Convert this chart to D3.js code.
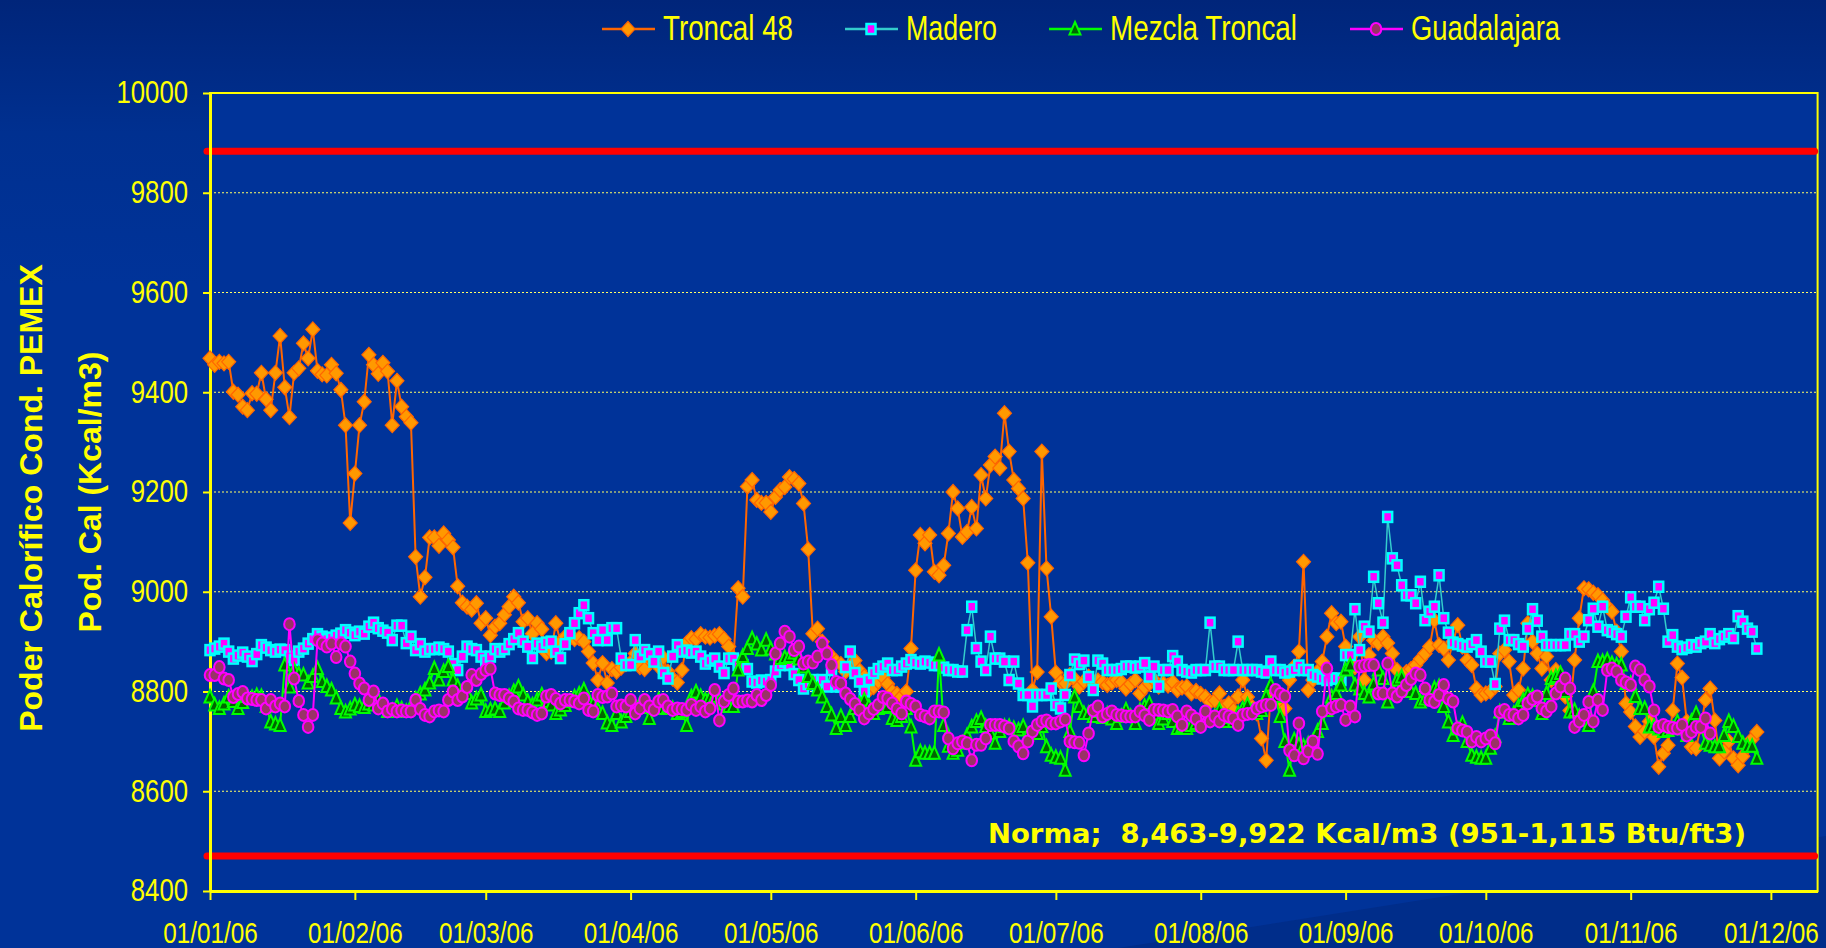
<!DOCTYPE html>
<meta charset="utf-8"/>
<html>
  <head>
    <script src="https://d3js.org/d3.v7.min.js"></script>
    <style>
      body { margin: 0; background: #003399; overflow: hidden; }
    </style>
  </head>
  <body>
<script type="text/javascript">
var width = 1826;
var height = 948;
var plot = {left: 210, top: 93, right: 1817.6, bottom: 891};

// chart values
var startDay = '2006-01-01';
var endDay = '2006-12-11';
var yTicks = [8400, 8600, 8800, 9000, 9200, 9400, 9600, 9800, 10000];
var normaLow = 8470;
var normaHigh = 9883;
var normaLabel = 'Norma;  8,463-9,922 Kcal/m3 (951-1,115 Btu/ft3)';
var yTitle = 'Poder Calorífico Cond. PEMEX';
var yTitle2 = 'Pod. Cal (Kcal/m3)';
var seriesNames = ['Troncal 48', 'Madero', 'Mezcla Troncal', 'Guadalajara'];

var troncal48 = [
  9468,9455,9461,9458,9461,9401,9395,9371,9364,9398,9397,9439,9386,9364,9439,9513,9410,9350,9439,9448,
  9498,9468,9526,9443,9436,9434,9455,9438,9405,9334,9138,9237,9334,9381,9475,9455,9437,9459,9442,9334,
  9423,9371,9351,9339,9070,8990,9029,9109,9109,9092,9117,9104,9089,9011,8978,8970,8964,8977,8937,8947,
  8913,8930,8937,8954,8970,8990,8978,8940,8947,8916,8937,8925,8877,8880,8937,8900,8910,8907,8905,8907,
  8900,8880,8857,8823,8857,8817,8845,8840,8848,8855,8858,8876,8849,8845,8865,8860,8850,8868,8840,8826,
  8818,8843,8897,8907,8905,8915,8910,8908,8912,8915,8905,8890,8867,9007,8990,9211,9224,9184,9178,9178,
  9160,9190,9204,9210,9230,9226,9217,9177,9085,8916,8926,8900,8880,8870,8860,8855,8840,8850,8862,8842,
  8830,8803,8809,8820,8828,8815,8800,8795,8790,8800,8886,9043,9114,9097,9114,9040,9033,9053,9117,9200,
  9167,9110,9120,9170,9127,9234,9187,9254,9271,9248,9358,9281,9224,9207,9187,9058,8803,8839,9281,9047,
  8950,8838,8819,8816,8833,8825,8810,8820,8830,8815,8822,8819,8813,8818,8823,8819,8806,8815,8823,8796,
  8808,8816,8823,8810,8816,8812,8819,8803,8808,8810,8796,8801,8795,8789,8779,8782,8796,8769,8776,8762,
  8790,8823,8789,8769,8756,8706,8662,8796,8790,8782,8766,8823,8850,8880,9060,8803,8823,8840,8860,8910,
  8957,8937,8940,8890,8870,8849,8910,8823,8873,8903,8897,8910,8897,8876,8843,8829,8839,8845,8853,8865,
  8876,8890,8943,8893,8886,8863,8900,8933,8890,8863,8853,8806,8793,8796,8800,8810,8876,8883,8860,8793,
  8803,8846,8937,8900,8876,8846,8870,8823,8843,8820,8790,8762,8863,8947,9007,9005,8998,8993,8983,8970,
  8960,8920,8880,8776,8759,8730,8709,8720,8740,8709,8649,8676,8692,8762,8856,8828,8740,8689,8686,8730,
  8783,8806,8742,8666,8680,8700,8666,8652,8670,8689,8705,8719
];

var madero = [
  8883,8886,8890,8896,8880,8866,8872,8878,8870,8861,8875,8893,8888,8883,8880,8884,8883,8870,8863,8880,
  8886,8896,8905,8915,8910,8905,8908,8912,8916,8923,8918,8913,8920,8916,8930,8938,8927,8922,8918,8903,
  8932,8932,8897,8910,8883,8895,8880,8885,8885,8888,8885,8880,8855,8843,8870,8890,8885,8883,8870,8862,
  8870,8885,8880,8885,8895,8905,8917,8900,8890,8867,8896,8890,8898,8900,8880,8867,8895,8917,8937,8957,
  8973,8947,8917,8903,8923,8903,8927,8927,8866,8853,8853,8903,8870,8883,8875,8860,8880,8837,8826,8870,
  8893,8880,8882,8878,8880,8870,8856,8862,8866,8850,8837,8866,8866,8853,8853,8845,8820,8818,8822,8820,
  8823,8840,8853,8860,8853,8835,8823,8806,8815,8823,8810,8823,8810,8843,8810,8810,8849,8880,8837,8820,
  8800,8823,8837,8845,8850,8856,8843,8843,8850,8856,8863,8858,8856,8860,8858,8853,8853,8848,8843,8843,
  8840,8840,8923,8970,8887,8860,8843,8910,8866,8866,8860,8823,8860,8816,8793,8793,8770,8793,8793,8793,
  8806,8773,8766,8793,8833,8864,8855,8862,8829,8803,8862,8856,8843,8843,8843,8845,8850,8850,8848,8850,
  8857,8830,8850,8810,8843,8843,8871,8860,8843,8840,8838,8843,8843,8843,8938,8850,8850,8843,8843,8843,
  8900,8843,8843,8843,8843,8840,8838,8860,8843,8843,8838,8840,8843,8852,8843,8843,8833,8830,8826,8823,
  8826,8826,8823,8873,8873,8965,8883,8930,8920,9030,8977,8938,9150,9067,9053,9013,8993,8993,8977,9020,
  8943,8960,8970,9033,8947,8918,8898,8895,8892,8890,8895,8903,8880,8860,8860,8815,8926,8942,8903,8903,
  8895,8890,8926,8965,8942,8910,8893,8893,8893,8893,8893,8915,8915,8900,8910,8943,8966,8930,8970,8923,
  8920,8915,8910,8950,8989,8970,8970,8943,8965,8978,9010,8966,8900,8913,8890,8885,8888,8893,8890,8897,
  8900,8915,8897,8905,8910,8915,8907,8951,8940,8926,8920,8886
];

var mezclaTroncal = [
  8789,8773,8766,8775,8789,8780,8766,8778,8790,8788,8792,8790,8770,8739,8735,8732,8853,8809,8843,8835,
  8833,8817,8830,8846,8820,8810,8803,8787,8766,8759,8765,8773,8770,8768,8775,8773,8783,8770,8760,8762,
  8770,8765,8760,8770,8785,8795,8803,8817,8846,8823,8840,8850,8823,8810,8800,8796,8777,8785,8793,8760,
  8763,8765,8760,8777,8790,8800,8809,8793,8780,8773,8783,8793,8780,8773,8756,8763,8772,8780,8789,8795,
  8803,8783,8775,8763,8756,8737,8732,8756,8739,8750,8760,8770,8775,8768,8746,8770,8783,8766,8770,8766,
  8756,8760,8732,8789,8799,8790,8783,8788,8790,8783,8775,8770,8770,8843,8870,8886,8906,8895,8883,8903,
  8885,8875,8866,8868,8870,8877,8865,8849,8830,8816,8803,8789,8770,8753,8726,8750,8732,8750,8766,8775,
  8783,8770,8756,8766,8768,8770,8746,8742,8750,8766,8729,8662,8679,8676,8676,8676,8873,8732,8690,8676,
  8682,8696,8712,8729,8740,8746,8730,8716,8696,8720,8730,8730,8726,8723,8730,8713,8720,8716,8730,8689,
  8672,8668,8666,8642,8720,8789,8770,8756,8756,8750,8760,8748,8755,8745,8736,8750,8763,8750,8736,8762,
  8770,8776,8755,8736,8745,8756,8740,8726,8730,8726,8732,8736,8745,8756,8750,8750,8762,8740,8748,8740,
  8756,8765,8773,8760,8756,8762,8790,8813,8790,8750,8700,8642,8703,8693,8690,8695,8700,8720,8736,8762,
  8789,8796,8813,8843,8853,8813,8805,8796,8789,8815,8843,8826,8779,8800,8823,8829,8810,8800,8796,8779,
  8785,8790,8806,8810,8770,8739,8712,8725,8736,8700,8672,8668,8666,8666,8686,8710,8759,8759,8746,8756,
  8770,8782,8793,8790,8782,8756,8796,8826,8830,8836,8800,8759,8762,8750,8742,8732,8800,8860,8860,8863,
  8856,8853,8853,8816,8816,8790,8766,8766,8729,8730,8725,8720,8722,8726,8739,8725,8712,8740,8756,8729,
  8696,8692,8689,8689,8712,8740,8730,8710,8696,8690,8690,8666
];

var guadalajara = [
  8833,8833,8849,8826,8823,8789,8795,8799,8786,8785,8783,8783,8766,8783,8770,8776,8770,8935,8826,8781,
  8753,8729,8753,8903,8896,8890,8896,8869,8896,8890,8860,8836,8816,8806,8783,8800,8766,8776,8760,8765,
  8760,8762,8760,8760,8783,8765,8753,8750,8760,8762,8760,8783,8800,8783,8790,8809,8833,8823,8835,8843,
  8846,8796,8793,8793,8786,8780,8766,8763,8763,8758,8753,8756,8790,8793,8785,8776,8783,8783,8780,8776,
  8786,8763,8760,8793,8789,8790,8796,8770,8772,8770,8783,8756,8766,8783,8770,8763,8780,8783,8770,8763,
  8766,8765,8763,8773,8763,8770,8760,8766,8803,8742,8780,8793,8806,8780,8780,8782,8780,8793,8783,8793,
  8813,8876,8896,8920,8910,8883,8890,8856,8860,8858,8870,8896,8876,8853,8819,8816,8796,8785,8775,8763,
  8746,8756,8765,8773,8789,8786,8776,8765,8756,8780,8775,8770,8753,8750,8746,8760,8760,8758,8706,8686,
  8696,8700,8696,8662,8693,8693,8706,8733,8733,8733,8730,8726,8700,8690,8676,8700,8720,8733,8740,8742,
  8736,8736,8740,8744,8700,8698,8697,8672,8716,8762,8770,8750,8755,8760,8753,8752,8750,8750,8750,8760,
  8752,8743,8763,8763,8762,8760,8763,8750,8733,8760,8752,8745,8729,8760,8740,8750,8740,8753,8750,8746,
  8733,8753,8755,8756,8766,8770,8773,8773,8803,8795,8790,8682,8672,8736,8666,8680,8700,8675,8760,8846,
  8766,8770,8773,8743,8770,8750,8850,8852,8853,8853,8796,8796,8856,8796,8790,8800,8813,8825,8836,8833,
  8806,8783,8779,8793,8813,8786,8780,8726,8722,8719,8700,8709,8700,8706,8712,8696,8759,8763,8753,8753,
  8746,8753,8776,8785,8790,8766,8760,8770,8796,8810,8826,8806,8729,8740,8753,8779,8740,8783,8763,8843,
  8846,8840,8823,8818,8813,8850,8843,8823,8810,8762,8729,8733,8729,8727,8726,8733,8712,8719,8729,8729,
  8746,8716
];

var series = [
  {name: seriesNames[0], values: troncal48, line: '#FF6600', lineWidth: 2, marker: 'diamond'},
  {name: seriesNames[1], values: madero, line: '#33CCCC', lineWidth: 1.5, marker: 'square'},
  {name: seriesNames[2], values: mezclaTroncal, line: '#00FF00', lineWidth: 2, marker: 'triangle'},
  {name: seriesNames[3], values: guadalajara, line: '#FF00FF', lineWidth: 2, marker: 'circle'}
];

var parseDay = d3.utcParse('%Y-%m-%d');
var day0 = parseDay(startDay);
var sans = "'Liberation Sans', Arial, sans-serif";

// no narrow face installed: squeeze regular glyphs to look like Arial Narrow
function condense(sel, factor) {
  sel.each(function() {
    var w = this.getComputedTextLength();
    d3.select(this)
        .attr('textLength', w * factor)
        .attr('lengthAdjust', 'spacingAndGlyphs');
  });
}

var svg = d3.select('body').append('svg')
    .attr('width', width)
    .attr('height', height)
    .style('display', 'block');

// background
var defs = svg.append('defs');
var grad = defs.append('linearGradient')
    .attr('id', 'bg')
    .attr('x1', 0).attr('y1', 0).attr('x2', 0).attr('y2', 1);
grad.append('stop').attr('offset', '0%').attr('stop-color', '#00257a');
grad.append('stop').attr('offset', '14%').attr('stop-color', '#003090');
grad.append('stop').attr('offset', '30%').attr('stop-color', '#003399');
grad.append('stop').attr('offset', '100%').attr('stop-color', '#003399');
svg.append('rect')
    .attr('width', width)
    .attr('height', height)
    .attr('fill', 'url(#bg)');
svg.append('path')
    .attr('d', 'M1118,948L1826,836L1826,948Z')
    .attr('fill', '#002c86')
    .attr('opacity', 0.8);

var x = d3.scaleUtc()
    .domain([parseDay(startDay), parseDay(endDay)])
    .range([plot.left, plot.right]);
var y = d3.scaleLinear()
    .domain([yTicks[0], yTicks[yTicks.length - 1]])
    .range([plot.bottom, plot.top]);

svg.append('rect')
    .attr('x', plot.left)
    .attr('y', plot.top)
    .attr('width', plot.right - plot.left)
    .attr('height', plot.bottom - plot.top)
    .attr('fill', '#003399')
    .attr('stroke', '#FFFF00')
    .attr('stroke-width', 2);

// dotted grid
svg.append('g')
    .selectAll('line')
    .data(yTicks.slice(1, -1))
    .enter()
    .append('line')
    .attr('x1', plot.left)
    .attr('x2', plot.right)
    .attr('y1', function(d) { return y(d); })
    .attr('y2', function(d) { return y(d); })
    .attr('stroke', '#FFFF66')
    .attr('stroke-width', 1.2)
    .attr('stroke-dasharray', '2,2');

// norma lines
svg.append('g')
    .selectAll('line')
    .data([normaHigh, normaLow])
    .enter()
    .append('line')
    .attr('x1', plot.left - 3)
    .attr('x2', plot.right - 3)
    .attr('y1', function(d) { return y(d); })
    .attr('y2', function(d) { return y(d); })
    .attr('stroke', '#FF0000')
    .attr('stroke-width', 7)
    .attr('stroke-linecap', 'round');

svg.append('text')
    .attr('x', 988)
    .attr('y', 843)
    .attr('fill', '#FFFF00')
    .attr('font-family', 'DejaVu Sans, sans-serif')
    .attr('font-weight', 'bold')
    .attr('font-size', '27px')
    .attr('textLength', 758)
    .attr('lengthAdjust', 'spacingAndGlyphs')
    .style('white-space', 'pre')
    .text(normaLabel);

// axes
var yAxis = svg.append('g')
    .attr('transform', 'translate(' + plot.left + ',0)')
    .call(d3.axisLeft(y).tickValues(yTicks).tickSize(7).tickSizeOuter(0).tickPadding(15).tickFormat(d3.format('d')));
var xAxis = svg.append('g')
    .attr('transform', 'translate(0,' + plot.bottom + ')')
    .call(d3.axisBottom(x).ticks(d3.utcMonth.every(1)).tickSize(9).tickSizeOuter(0).tickPadding(22).tickFormat(d3.utcFormat('%d/%m/%y')));
[yAxis, xAxis].forEach(function(a) {
  a.select('.domain').attr('stroke', '#FFFF00').attr('stroke-width', 3);
  a.selectAll('.tick line').attr('stroke', '#FFFF00').attr('stroke-width', 2);
  a.selectAll('.tick text')
      .attr('fill', '#FFFF00')
      .attr('font-family', sans)
      .attr('font-size', '30px');
});
yAxis.selectAll('.tick text').attr('font-size', '31px');
condense(yAxis.selectAll('.tick text'), 0.83);
condense(xAxis.selectAll('.tick text'), 0.81);

// axis titles
svg.append('text')
    .attr('transform', 'translate(42,498) rotate(-90)')
    .attr('text-anchor', 'middle')
    .attr('fill', '#FFFF00')
    .attr('font-family', sans)
    .attr('font-weight', 'bold')
    .attr('font-size', '32px')
    .text(yTitle);
svg.append('text')
    .attr('transform', 'translate(101,492) rotate(-90)')
    .attr('text-anchor', 'middle')
    .attr('fill', '#FFFF00')
    .attr('font-family', sans)
    .attr('font-weight', 'bold')
    .attr('font-size', '32px')
    .text(yTitle2);

function drawMarker(g, type) {
  if (type === 'diamond') {
    g.append('path').attr('d', 'M0,-7.5L7,0L0,7.5L-7,0Z')
        .attr('fill', '#FF9900').attr('stroke', '#FF6600').attr('stroke-width', 1.2);
  } else if (type === 'square') {
    g.append('rect').attr('x', -4.5).attr('y', -5).attr('width', 9).attr('height', 10)
        .attr('fill', '#FF00FF').attr('stroke', '#00FFFF').attr('stroke-width', 2.5);
  } else if (type === 'triangle') {
    g.append('path').attr('d', 'M0,-7L5.5,5.5L-5.5,5.5Z')
        .attr('fill', '#006600').attr('stroke', '#00FF00').attr('stroke-width', 2);
  } else {
    g.append('ellipse').attr('rx', 5.3).attr('ry', 6)
        .attr('fill', '#993366').attr('stroke', '#FF00FF').attr('stroke-width', 2);
  }
}

var line = d3.line()
    .x(function(d, i) { return x(d3.utcDay.offset(day0, i)); })
    .y(function(d) { return y(d); });

series.forEach(function(s) {
  var g = svg.append('g').attr('class', 'series');
  g.append('path')
      .attr('d', line(s.values))
      .attr('fill', 'none')
      .attr('stroke', s.line)
      .attr('stroke-width', s.lineWidth)
      .attr('stroke-linejoin', 'round');
  g.selectAll('g.pt')
      .data(s.values)
      .enter()
      .append('g')
      .attr('class', 'pt')
      .attr('transform', function(d, i) {
        return 'translate(' + x(d3.utcDay.offset(day0, i)) + ',' + y(d) + ')';
      })
      .each(function() { drawMarker(d3.select(this), s.marker); });
});

// legend
var legendPos = [602, 845, 1049, 1350];
var legendTextWidth = [130, 91, 187, 149];
var legend = svg.append('g')
    .selectAll('g')
    .data(series)
    .enter()
    .append('g')
    .attr('transform', function(d, i) { return 'translate(' + legendPos[i] + ',29)'; });
legend.append('line')
    .attr('x1', 0).attr('x2', 53)
    .attr('stroke', function(d) { return d.line; })
    .attr('stroke-width', 2.5);
legend.append('g')
    .attr('transform', 'translate(26,0)')
    .each(function(d) { drawMarker(d3.select(this), d.marker); });
legend.append('text')
    .attr('x', 61)
    .attr('y', 11)
    .attr('fill', '#FFFF00')
    .attr('font-family', sans)
    .attr('font-size', '35px')
    .attr('textLength', function(d, i) { return legendTextWidth[i]; })
    .attr('lengthAdjust', 'spacingAndGlyphs')
    .text(function(d) { return d.name; });
</script>
  </body>
</html>
